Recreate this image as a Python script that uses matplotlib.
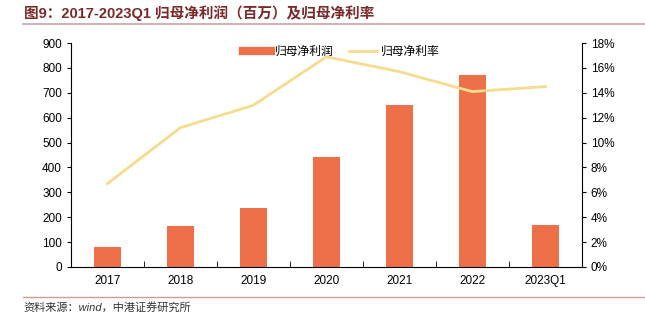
import matplotlib.pyplot as plt
import numpy as np
from matplotlib.lines import Line2D

plt.rcParams['font.family'] = ['Liberation Sans', 'Noto Sans CJK SC', 'DejaVu Sans']

years = ["2017", "2018", "2019", "2020", "2021", "2022", "2023Q1"]
net_profit = [80, 165, 237, 442, 650, 771, 169]
net_margin = [6.7, 11.2, 13.0, 16.9, 15.7, 14.1, 14.5]

bar_color = "#ED7049"
line_color = "#F5DC8F"
title_color = "#7B2A2A"

fig = plt.figure(figsize=(6.45, 3.24), dpi=100)
ax = fig.add_axes([0.110, 0.176, 0.792, 0.691])
ax2 = ax.twinx()

x = np.arange(len(years))
ax.bar(x, net_profit, width=0.37, color=bar_color, zorder=2)
ax2.plot(x, net_margin, color=line_color, linewidth=2, zorder=3)

ax.set_xlim(-0.5, len(years) - 0.5)
ax.set_ylim(0, 900)
ax.set_yticks(range(0, 901, 100))
ax2.set_ylim(0, 18)
ax2.set_yticks(range(0, 19, 2))
ax2.set_yticklabels([f"{v}%" for v in range(0, 19, 2)])
ax.set_xticks(x)
ax.set_xticklabels(years)
ax.set_xticks(np.arange(-0.5, len(years)), minor=True)
ax.tick_params(axis="x", which="major", length=0, labelsize=8.5, pad=6)
ax.tick_params(axis="x", which="minor", length=4, direction="in")
ax.tick_params(axis="y", labelsize=8.5, direction="out", length=3)
ax2.tick_params(axis="y", labelsize=8.5, direction="out", length=3)

for a in (ax, ax2):
    a.spines["top"].set_visible(False)
ax.spines["right"].set_visible(False)
ax2.spines["left"].set_visible(False)
ax2.spines["bottom"].set_visible(False)

handles = [
    Line2D([0], [0], color=bar_color, linewidth=6),
    Line2D([0], [0], color=line_color, linewidth=2),
]
ax.legend(handles, ["归母净利润", "归母净利率"], loc="upper center",
          bbox_to_anchor=(0.53, 1.04), ncol=2, frameon=False,
          prop={"family": ["Noto Sans CJK SC"], "size": 8.5},
          handlelength=2.3, handletextpad=0.4, columnspacing=1.3)

fig.text(0.037, 0.958, "图9：2017-2023Q1 归母净利润（百万）及归母净利率",
         fontsize=10.5, fontweight="bold", color=title_color,
         family=["Liberation Sans", "Noto Sans CJK SC"], va="center")
fig.add_artist(Line2D([0.035, 1.0], [0.925, 0.925], color="#C9A3A3", linewidth=1.2))
fig.add_artist(Line2D([0.035, 1.0], [0.083, 0.083], color="#D99A8A", linewidth=1.0))
fig.text(0.037, 0.05, "资料来源：wind，中港证券研究所", fontsize=8, style="italic",
         color="#333333", family=["Liberation Sans", "Noto Sans CJK SC"], va="center")

fig.savefig("out.png", dpi=100)
